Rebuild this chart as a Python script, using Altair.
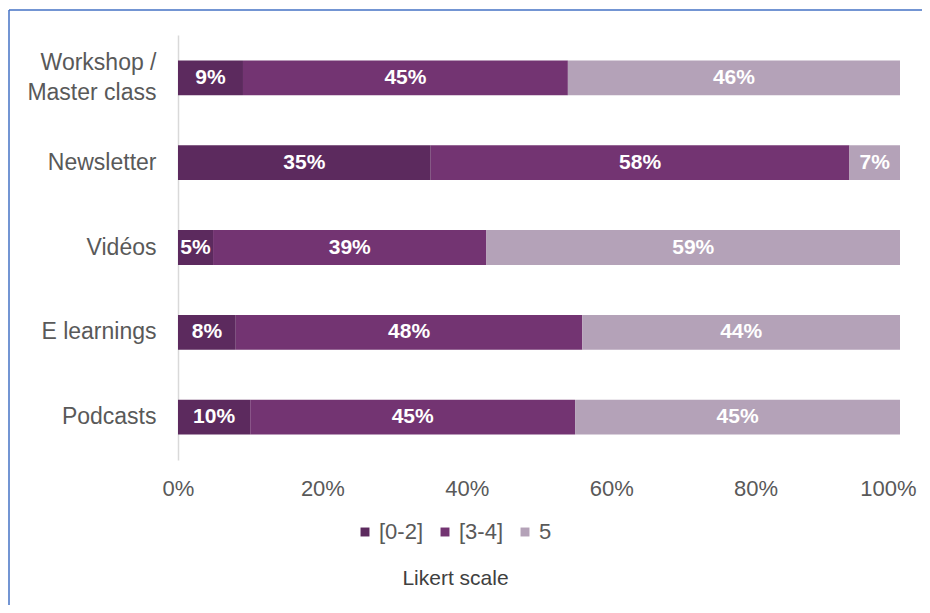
import altair as alt
import pandas as pd

categories = ["Workshop /|Master class", "Newsletter", "Vidéos", "E learnings", "Podcasts"]
levels = ["[0-2]", "[3-4]", "5"]
low = [9, 35, 5, 8, 10]
mid = [45, 58, 39, 48, 45]
high = [46, 7, 59, 44, 45]
colors = ["#5C2A5E", "#733472", "#B4A2B8"]

rows = []
for i, c in enumerate(categories):
    for j, (lv, vals) in enumerate(zip(levels, [low, mid, high])):
        rows.append({"category": c, "level": lv, "value": vals[i], "ord": j})
df = pd.DataFrame(rows)

base = alt.Chart(df).transform_stack(
    stack="value", groupby=["category"], as_=["x0", "x1"],
    sort=[alt.SortField("ord", order="ascending")], offset="normalize"
).transform_calculate(xm="(datum.x0 + datum.x1) / 2")

ysc = alt.Y("category:N", sort=categories,
            scale=alt.Scale(paddingInner=0.59, paddingOuter=0.3),
            axis=alt.Axis(title=None, labelExpr="split(datum.value, '|')",
                          labelFontSize=23, labelColor="#595959", labelFont="Liberation Sans",
                          labelPadding=22, labelLineHeight=30, ticks=False,
                          labelOffset={"condition": {"test": "indexof(datum.value, '|') >= 0", "value": -15}, "value": 0},
                          domainColor="#D9D9D9", domainWidth=1.5, labelBaseline="middle"))

bars = base.mark_bar().encode(
    x=alt.X("x0:Q", scale=alt.Scale(domain=[0, 1], nice=False),
            axis=alt.Axis(format="%", values=[0, 0.2, 0.4, 0.6, 0.8, 1.0], grid=False, ticks=False,
                          domain=False, labelFontSize=22, labelColor="#595959",
                          labelFont="Liberation Sans", labelPadding=18, labelFlush=False,
                          labelOffset={"condition": {"test": "datum.value == 1", "value": -12}, "value": 0},
                          title="Likert scale", titleFontSize=21, titleFontWeight="normal",
                          titleColor="#404040", titleFont="Liberation Sans",
                          titleX=277, titleY=118, titleBaseline="middle", titleAnchor="middle")),
    x2="x1:Q",
    y=ysc,
    color=alt.Color("level:N", sort=levels, scale=alt.Scale(domain=levels, range=colors),
                    legend=alt.Legend(title=None, orient="none", direction="horizontal",
                                      legendX=176, legendY=486, symbolType="square",
                                      symbolSize=80, labelFontSize=22, labelColor="#595959",
                                      labelFont="Liberation Sans", labelOffset=3,
                                      columnPadding=10, symbolStrokeWidth=0)),
    order=alt.Order("ord:Q"),
)

labels = base.mark_text(color="white", fontWeight="bold", fontSize=21,
                        font="Liberation Sans", baseline="middle").encode(
    x=alt.X("xm:Q"),
    y=alt.Y("category:N", sort=categories),
    text=alt.Text("label:N"),
).transform_calculate(label="datum.value + '%'")

frame = alt.Chart(alt.Data(values=[{"a": 1}]))
top_rule = frame.mark_rule(color="#4472C4", strokeWidth=1.5).encode(
    x=alt.value(-169), x2=alt.value(760), y=alt.value(-25))
left_rule = frame.mark_rule(color="#4472C4", strokeWidth=1.5).encode(
    x=alt.value(-169), y=alt.value(-25), y2=alt.value(620))

chart = alt.layer(bars, labels, top_rule, left_rule).properties(
    width=722, height=425,
    background="white",
    autosize=alt.AutoSizeParams(type="none"),
    padding={"left": 170, "top": 27, "right": 22, "bottom": 145},
).configure_view(strokeWidth=0)

chart.save("out.html", embed_options={"renderer": "svg", "actions": False})
